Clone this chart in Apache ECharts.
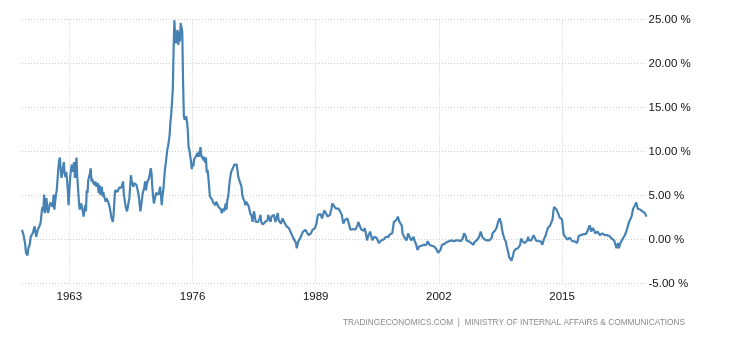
<!DOCTYPE html>
<html>
<head>
<meta charset="utf-8">
<script src="https://cdn.jsdelivr.net/npm/echarts@6/dist/echarts.min.js"></script>
<style>html,body{margin:0;padding:0;background:#fff}#c{width:730px;height:340px}</style>
</head>
<body>
<div id="c"></div>
<script>
// Japan inflation rate (%), monthly, Jan 1958 - Dec 2023
const startYear = 1958;
const tickYears = ['1963', '1976', '1989', '2002', '2015'];
const yTicks = [-5, 0, 5, 10, 15, 20, 25];
const footer = 'TRADINGECONOMICS.COM  |  MINISTRY OF INTERNAL AFFAIRS & COMMUNICATIONS';

const y1958 = [1.1, 0.8, 0.5, 0.3, -0.5, -1.5, -1.6, -1.8, -1.0, -1.2, -0.5, 0.3];
const y1959 = [0.3, 0.4, 0.8, 1.2, 1.5, 0.9, 0.3, 0.7, 1.1, 1.2, 1.3, 1.7];
const y1960 = [2.2, 3.2, 3.7, 3.2, 5.1, 3.0, 3.8, 4.7, 3.6, 3.0, 3.4, 3.9];
const y1961 = [4.2, 4.3, 4.0, 3.7, 5.1, 3.4, 4.3, 5.1, 5.6, 6.8, 8.0, 9.0];
const y1962 = [9.3, 8.0, 7.0, 7.6, 8.1, 8.8, 7.5, 7.1, 7.7, 6.8, 5.6, 3.9];
const y1963 = [5.6, 7.0, 7.9, 8.5, 7.7, 8.2, 8.8, 7.0, 8.0, 9.3, 7.1, 5.8];
const y1964 = [4.5, 3.4, 3.8, 4.1, 3.6, 3.2, 2.6, 3.2, 3.9, 3.2, 5.6, 5.3];
const y1965 = [6.8, 7.0, 7.5, 8.1, 6.6, 6.9, 6.5, 6.4, 6.2, 6.6, 6.0, 5.9];
const y1966 = [6.4, 5.3, 6.2, 5.1, 5.6, 6.0, 4.9, 5.4, 4.9, 4.6, 4.3, 4.7];
const y1967 = [4.5, 4.3, 4.1, 3.7, 3.2, 2.6, 2.3, 2.0, 2.8, 4.4, 5.6, 5.4];
const y1968 = [5.6, 5.4, 5.6, 5.9, 5.8, 6.0, 5.9, 5.9, 6.6, 5.1, 4.5, 3.9];
const y1969 = [3.5, 3.2, 3.7, 4.2, 4.7, 6.0, 7.3, 6.6, 6.3, 6.0, 6.4, 6.6];
const y1970 = [6.4, 6.2, 6.0, 5.4, 4.9, 4.0, 3.2, 3.9, 4.6, 5.3, 5.6, 6.0];
const y1971 = [6.6, 5.6, 6.2, 6.6, 6.8, 7.0, 7.5, 8.1, 7.6, 6.0, 5.0, 4.1];
const y1972 = [4.3, 4.9, 5.3, 5.3, 5.2, 5.1, 5.5, 6.0, 5.0, 3.9, 5.0, 5.6];
const y1973 = [6.8, 7.9, 8.6, 9.4, 10.2, 10.6, 11.2, 11.9, 13.4, 14.2, 14.4, 17.0];
const y1974 = [21.5, 24.9, 23.0, 22.3, 23.4, 23.8, 22.1, 23.6, 22.5, 24.6, 24.8, 23.6];
const y1975 = [18.0, 14.0, 13.6, 13.8, 14.0, 13.4, 12.4, 10.5, 10.2, 10.4, 8.9, 8.0];
const y1976 = [8.7, 8.3, 9.1, 9.3, 9.4, 9.3, 9.8, 9.4, 10.0, 9.4, 10.5, 9.6];
const y1977 = [9.5, 9.4, 9.0, 9.4, 8.7, 9.3, 7.6, 7.9, 7.1, 6.0, 4.9, 4.7];
const y1978 = [4.8, 4.5, 4.2, 4.1, 4.3, 3.9, 4.3, 4.5, 4.1, 3.7, 3.9, 3.6];
const y1979 = [3.4, 3.0, 2.8, 3.5, 3.2, 3.2, 4.1, 3.4, 4.5, 4.8, 5.6, 6.6];
const y1980 = [7.2, 7.7, 7.9, 8.1, 8.3, 8.5, 8.7, 8.3, 8.5, 7.8, 7.1, 6.8];
const y1981 = [7.0, 6.8, 6.0, 5.1, 4.7, 4.5, 4.3, 3.9, 4.3, 4.2, 4.1, 3.8];
const y1982 = [3.4, 3.0, 2.8, 2.6, 2.0, 2.8, 3.2, 3.1, 2.0, 2.2, 2.1, 2.0];
const y1983 = [2.2, 2.4, 2.8, 2.0, 1.9, 1.7, 1.6, 1.5, 2.0, 1.9, 1.8, 2.2];
const y1984 = [2.8, 2.4, 2.2, 2.0, 2.6, 2.4, 2.5, 2.8, 2.4, 2.0, 2.1, 2.2];
const y1985 = [3.0, 2.2, 2.3, 2.4, 1.8, 2.0, 2.4, 2.2, 2.0, 1.8, 2.0, 1.5];
const y1986 = [1.5, 1.6, 1.3, 1.1, 0.9, 0.7, 0.5, 0.4, 0.1, 0.2, 0.3, -0.4];
const y1987 = [-1.0, -0.8, -0.2, -0.1, 0.1, 0.1, 0.5, 0.6, 0.9, 0.8, 0.7, 1.1];
const y1988 = [1.0, 0.8, 0.7, 0.5, 0.3, 0.5, 0.7, 0.9, 1.1, 1.2, 1.2, 1.3];
const y1989 = [1.4, 1.8, 2.4, 2.8, 3.0, 3.0, 2.9, 2.8, 2.4, 2.6, 3.0, 3.3];
const y1990 = [3.5, 3.0, 2.9, 2.6, 2.5, 2.4, 2.8, 3.0, 3.5, 4.1, 3.9, 3.8];
const y1991 = [3.7, 3.6, 3.5, 3.4, 3.4, 3.5, 3.4, 3.2, 3.0, 2.8, 2.6, 1.8];
const y1992 = [2.0, 2.2, 2.0, 2.1, 2.4, 2.2, 1.8, 1.6, 1.1, 0.9, 1.1, 1.2];
const y1993 = [1.2, 1.3, 1.1, 0.9, 1.2, 1.6, 2.0, 1.8, 1.5, 1.3, 1.1, 1.0];
const y1994 = [0.9, 1.0, 1.3, 0.9, 0.5, -0.1, 0.2, 0.5, 0.7, 0.9, 0.5, 0.5];
const y1995 = [-0.1, 0.1, 0.3, 0.2, 0.1, 0.2, 0.3, 0.0, -0.4, -0.3, -0.2, -0.1];
const y1996 = [-0.1, -0.1, 0.0, 0.1, 0.2, 0.3, 0.2, 0.1, 0.3, 0.5, 0.6, 0.7];
const y1997 = [0.6, 0.7, 0.6, 2.0, 2.2, 2.1, 2.2, 2.4, 2.6, 2.4, 2.0, 2.1];
const y1998 = [2.2, 1.6, 0.7, 0.5, 0.3, 0.2, 0.1, -0.1, 0.2, 0.7, 0.9, 0.3];
const y1999 = [0.2, -0.1, -0.2, -0.1, 0.3, -0.1, -0.3, -0.5, -0.6, -1.2, -1.0, -0.8];
const y2000 = [-0.7, -0.6, -0.7, -0.8, -0.7, -0.6, -0.7, -0.8, -0.6, -0.4, -0.2, -0.4];
const y2001 = [-0.6, -0.7, -0.8, -0.7, -0.6, -0.7, -0.8, -0.9, -1.0, -1.1, -1.2, -1.5];
const y2002 = [-1.6, -1.4, -1.2, -1.0, -0.6, -0.7, -0.6, -0.5, -0.5, -0.4, -0.3, -0.2];
const y2003 = [-0.1, -0.2, -0.1, -0.2, -0.1, -0.2, -0.1, -0.2, -0.1, -0.2, -0.1, -0.2];
const y2004 = [-0.2, -0.1, -0.1, -0.2, -0.2, -0.1, 0.1, 0.3, 0.7, 0.9, 0.4, -0.1];
const y2005 = [-0.2, -0.1, -0.2, -0.3, -0.4, -0.4, -0.4, -0.5, -0.6, -0.3, -0.1, -0.1];
const y2006 = [-0.1, -0.1, 0.1, 0.3, 0.5, 0.9, 0.7, 0.3, 0.3, 0.1, 0.0, -0.1];
const y2007 = [-0.1, -0.1, -0.1, -0.1, -0.1, -0.2, -0.2, 0.2, 0.7, 0.8, 0.9, 1.0];
const y2008 = [1.1, 1.3, 1.5, 2.0, 2.2, 2.4, 2.2, 1.8, 1.2, 0.7, 0.4, 0.1];
const y2009 = [-0.1, -0.3, -0.8, -0.9, -1.5, -2.0, -2.2, -2.2, -2.4, -2.2, -1.8, -1.4];
const y2010 = [-1.3, -1.1, -1.0, -1.0, -1.0, -0.9, -0.8, -0.6, 0.1, -0.1, -0.2, -0.4];
const y2011 = [-0.4, -0.4, -0.2, -0.2, -0.1, 0.3, -0.1, -0.1, -0.2, -0.1, 0.0, 0.1];
const y2012 = [0.5, 0.4, 0.3, -0.1, -0.1, -0.2, -0.2, -0.1, -0.1, -0.2, -0.4, -0.6];
const y2013 = [-0.3, 0.0, 0.1, 0.4, 0.7, 1.0, 1.3, 1.4, 1.5, 1.6, 1.6, 1.8];
const y2014 = [2.3, 3.2, 3.7, 3.6, 3.5, 3.4, 3.3, 3.0, 2.8, 2.5, 2.4, 2.4];
const y2015 = [2.3, 2.1, 0.6, 0.4, 0.3, 0.1, 0.1, 0.0, -0.1, 0.1, 0.2, 0.1];
const y2016 = [0.1, -0.2, -0.1, -0.2, -0.2, -0.3, -0.4, -0.4, -0.1, 0.4, 0.5, 0.3];
const y2017 = [0.5, 0.6, 0.5, 0.6, 0.5, 0.7, 0.6, 0.7, 0.9, 0.8, 1.0, 1.6];
const y2018 = [1.3, 0.9, 0.7, 1.3, 1.5, 1.0, 0.7, 0.5, 0.7, 0.9, 0.8, 0.7];
const y2019 = [0.5, 0.3, 0.4, 0.7, 0.7, 0.6, 0.5, 0.3, 0.3, 0.5, 0.7, 0.5];
const y2020 = [0.4, 0.3, 0.2, 0.1, 0.1, 0.0, -0.1, -0.4, -0.6, -1.0, -0.7, -0.4];
const y2021 = [-1.0, -0.7, -0.4, -0.3, -0.2, 0.1, 0.3, 0.4, 0.5, 0.8, 1.1, 1.4];
const y2022 = [1.6, 2.0, 2.2, 2.2, 2.6, 3.0, 3.5, 3.7, 3.8, 4.0, 4.2, 4.3];
const y2023 = [3.5, 3.5, 3.4, 3.4, 3.4, 3.3, 3.2, 3.4, 3.3, 3.0, 2.8, 2.6];

const years = [y1958, y1959, y1960, y1961, y1962, y1963, y1964, y1965, y1966, y1967,
  y1968, y1969, y1970, y1971, y1972, y1973, y1974, y1975, y1976, y1977,
  y1978, y1979, y1980, y1981, y1982, y1983, y1984, y1985, y1986, y1987,
  y1988, y1989, y1990, y1991, y1992, y1993, y1994, y1995, y1996, y1997,
  y1998, y1999, y2000, y2001, y2002, y2003, y2004, y2005, y2006, y2007,
  y2008, y2009, y2010, y2011, y2012, y2013, y2014, y2015, y2016, y2017,
  y2018, y2019, y2020, y2021, y2022, y2023];

const cats = [];
const vals = [];
years.forEach((arr, yi) => {
  arr.forEach((v, mi) => {
    cats.push((startYear + yi) + '-' + String(mi + 1).padStart(2, '0'));
    vals.push(v);
  });
});
const isTick = (idx, val) => {
  const c = cats[idx] || val;
  return c.endsWith('-01') && tickYears.indexOf(c.slice(0, 4)) >= 0;
};

const chart = echarts.init(document.getElementById('c'), null, {renderer: 'canvas'});
chart.setOption({
  animation: false,
  backgroundColor: '#ffffff',
  grid: {left: 22, right: 83.5, top: 19.5, bottom: 56.5, containLabel: false},
  xAxis: {
    type: 'category',
    data: cats,
    boundaryGap: false,
    axisLine: {show: false},
    axisTick: {show: false},
    axisLabel: {
      interval: isTick,
      formatter: v => v.slice(0, 4),
      color: '#111',
      fontSize: 11.5,
      fontFamily: 'Arial, "Liberation Sans", sans-serif',
      margin: 7
    },
    splitLine: {
      show: true,
      interval: isTick,
      lineStyle: {color: '#cccccc', type: [1, 2], width: 1}
    }
  },
  yAxis: {
    type: 'value',
    position: 'right',
    min: yTicks[0],
    max: yTicks[yTicks.length - 1],
    interval: 5,
    axisLine: {show: false},
    axisTick: {show: false},
    axisLabel: {
      formatter: v => v.toFixed(2) + ' %',
      color: '#111',
      fontSize: 11.5,
      fontFamily: 'Arial, "Liberation Sans", sans-serif',
      margin: 2
    },
    splitLine: {lineStyle: {color: '#cccccc', type: [1, 2], width: 1}}
  },
  series: [{
    type: 'line',
    data: vals,
    showSymbol: false,
    symbol: 'none',
    lineStyle: {color: '#4682b4', width: 2.2},
    itemStyle: {color: '#4682b4'}
  }],
  graphic: [{
    type: 'text',
    right: 45,
    top: 319,
    style: {
      text: footer,
      fill: '#8a8a8a',
      font: '8.3px Arial, "Liberation Sans", sans-serif'
    }
  }]
});
</script>
</body>
</html>
